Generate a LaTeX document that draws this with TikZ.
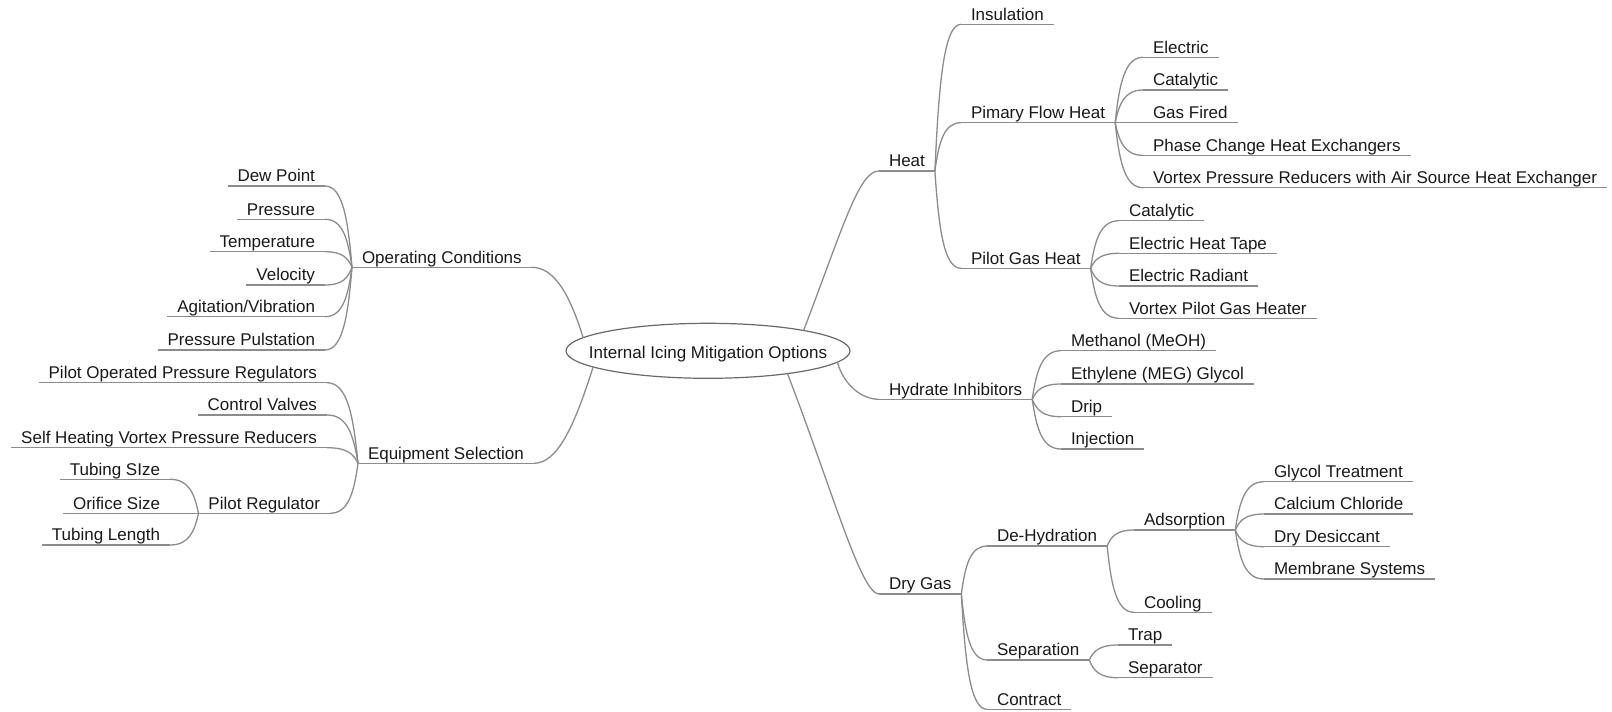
\documentclass[tikz,border=0pt]{standalone}
\usepackage{fontspec}
\setmainfont{Liberation Sans}
\usetikzlibrary{calc,shapes.geometric}
\definecolor{linecol}{RGB}{140,140,140}
\definecolor{txtcol}{RGB}{25,25,25}
\definecolor{ellcol}{RGB}{105,105,105}
\newcommand{\fkcurve}[2]{\draw[conn] let \p1=(#1), \p2=(#2) in (\p1) .. controls ({\x1+0.15*(\x2-\x1)},{\y1+0.6*(\y2-\y1)}) and ({\x1+0.35*(\x2-\x1)},\y2) .. (\p2);}
\begin{document}
\begin{tikzpicture}[x=1pt,y=-1pt,
  lbl/.style={font=\fontsize{17}{20}\selectfont, text=txtcol, inner xsep=10pt, inner ysep=0pt, text height=12.5pt, text depth=4.3pt, outer sep=0pt},
  rl/.style={lbl, anchor=south west},
  ll/.style={lbl, anchor=south east},
  conn/.style={draw=linecol, line width=1.3pt},
  rootnode/.style={ellipse, draw=ellcol, line width=1.2pt, minimum width=284pt, minimum height=55pt, inner sep=0pt, outer sep=0pt, text height=15.5pt, text depth=0pt, font=\fontsize{17}{20}\selectfont, text=txtcol}]
\useasboundingbox (0,0) rectangle (1612,712);

\node[rootnode] (root) at (708,350.8) {\makebox[0pt]{Internal Icing Mitigation Options}};

% right side
\node[rl] (heat) at (879,171) {Heat};
\node[rl] (ins) at (961,24.3) {Insulation};
\node[rl] (pfh) at (961,122.7) {Pimary Flow Heat};
\node[rl] (elec) at (1143,57.3) {Electric};
\node[rl] (catA) at (1143,90) {Catalytic};
\node[rl] (gas) at (1143,122.7) {Gas Fired};
\node[rl] (phase) at (1143,155.3) {Phase Change Heat Exchangers};
\node[rl] (vortex) at (1143,187.7) {Vortex Pressure Reducers with Air Source Heat Exchanger};
\node[rl] (pgh) at (961,268.3) {Pilot Gas Heat};
\node[rl] (catB) at (1119,220.7) {Catalytic};
\node[rl] (eht) at (1119,253.3) {Electric Heat Tape};
\node[rl] (erad) at (1119,286) {Electric Radiant};
\node[rl] (vpgh) at (1119,318.3) {Vortex Pilot Gas Heater};
\node[rl] (hyd) at (879,399.3) {Hydrate Inhibitors};
\node[rl] (meoh) at (1061,350.7) {Methanol (MeOH)};
\node[rl] (meg) at (1061,384) {Ethylene (MEG) Glycol};
\node[rl] (drip) at (1061,416.7) {Drip};
\node[rl] (inj) at (1061,449) {Injection};
\node[rl] (dry) at (879,594) {Dry Gas};
\node[rl] (dehyd) at (987,546) {De-Hydration};
\node[rl] (ads) at (1134,530) {Adsorption};
\node[rl] (glycol) at (1264,481.7) {Glycol Treatment};
\node[rl] (cacl) at (1264,514) {Calcium Chloride};
\node[rl] (desic) at (1264,546.7) {Dry Desiccant};
\node[rl] (membr) at (1264,579) {Membrane Systems};
\node[rl] (cool) at (1134,612.3) {Cooling};
\node[rl] (sep) at (987,660) {Separation};
\node[rl] (trap) at (1118,645) {Trap};
\node[rl] (sepr) at (1118,677.7) {Separator};
\node[rl] (contr) at (987,709.3) {Contract};

% left side
\node[rl] (oc) at (352,267.3) {Operating Conditions};
\node[ll] (dew) at (325,186) {Dew Point};
\node[ll] (press) at (325,219.3) {Pressure};
\node[ll] (temp) at (325,251.7) {Temperature};
\node[ll] (vel) at (325,285) {Velocity};
\node[ll] (agit) at (325,316.7) {Agitation/Vibration};
\node[ll] (pulse) at (325,350) {Pressure Pulstation};
\node[rl] (es) at (358,463.3) {Equipment Selection};
\node[ll] (pop) at (327,382.7) {Pilot Operated Pressure Regulators};
\node[ll] (cv) at (327,415) {Control Valves};
\node[ll] (shv) at (327,447.7) {Self Heating Vortex Pressure Reducers};
\node[ll] (pr) at (330,513.3) {Pilot Regulator};
\node[ll] (tsize) at (170,479.3) {Tubing SIze};
\node[ll] (osize) at (170,513.3) {Orifice Size};
\node[ll] (tlen) at (170,545) {Tubing Length};

% underlines
\foreach \n in {heat,ins,pfh,elec,catA,gas,phase,vortex,pgh,catB,eht,erad,vpgh,hyd,meoh,meg,drip,inj,dry,dehyd,ads,glycol,cacl,desic,membr,cool,sep,trap,sepr,contr,oc,dew,press,temp,vel,agit,pulse,es,pop,cv,shv,pr,tsize,osize,tlen}
  \draw[conn] (\n.south west) -- (\n.south east);

% root connectors
\draw[conn] (root.12) .. controls +(40,-105) and +(-20,0) .. (heat.south west);
\draw[conn] (root.355) .. controls +(6,22) and +(-18,0) .. (hyd.south west);
\draw[conn] (root.344) .. controls +(45,117) and +(-18,0) .. (dry.south west);
\draw[conn] (root.174) .. controls +(-14,-45) and +(22,0) .. (oc.south east);
\draw[conn] (root.188) .. controls +(-20,64) and +(22,0) .. (es.south east);

% forks right
\foreach \c in {ins,pfh,pgh} {\fkcurve{heat.south east}{\c.south west}}
\foreach \c in {elec,catA,gas,phase,vortex} {\fkcurve{pfh.south east}{\c.south west}}
\foreach \c in {catB,eht,erad,vpgh} {\fkcurve{pgh.south east}{\c.south west}}
\foreach \c in {meoh,meg,drip,inj} {\fkcurve{hyd.south east}{\c.south west}}
\foreach \c in {dehyd,sep,contr} {\fkcurve{dry.south east}{\c.south west}}
\foreach \c in {ads,cool} {\fkcurve{dehyd.south east}{\c.south west}}
\foreach \c in {glycol,cacl,desic,membr} {\fkcurve{ads.south east}{\c.south west}}
\foreach \c in {trap,sepr} {\fkcurve{sep.south east}{\c.south west}}
% forks left
\foreach \c in {dew,press,temp,vel,agit,pulse} {\fkcurve{oc.south west}{\c.south east}}
\foreach \c in {pop,cv,shv,pr} {\fkcurve{es.south west}{\c.south east}}
\foreach \c in {tsize,osize,tlen} {\fkcurve{pr.south west}{\c.south east}}
\end{tikzpicture}
\end{document}
